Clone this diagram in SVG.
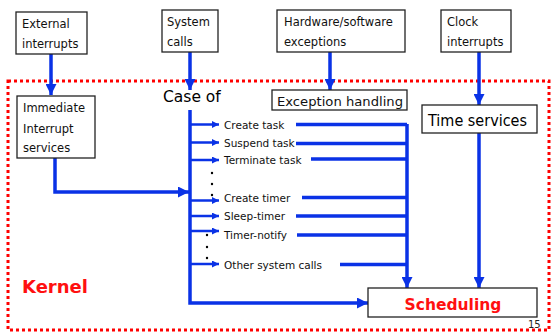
<svg xmlns="http://www.w3.org/2000/svg" width="551" height="332" viewBox="0 0 551 332">
  <style>
    .box { fill: #ffffff; stroke: #222222; stroke-width: 1.3; }
    .t { font-family: "DejaVu Sans", Verdana, sans-serif; font-size: 11.5px; fill: #111111; }
    .lbl { font-family: "DejaVu Sans", Verdana, sans-serif; font-size: 10.5px; fill: #111111; }
    .big { font-family: "DejaVu Sans", Verdana, sans-serif; font-size: 15.5px; fill: #000000; }
    .red { font-family: "DejaVu Sans", Verdana, sans-serif; font-weight: bold; fill: #ff1010; }
    .wire { fill: none; stroke: #0a32e6; stroke-width: 3.5; }
    .dot { fill: #000000; }
  </style>
  <defs>
    <marker id="ah" viewBox="0 0 10 10" refX="10" refY="5" markerWidth="12" markerHeight="11" markerUnits="userSpaceOnUse" orient="auto">
      <path d="M0,0 L10,5 L0,10 z" fill="#0a32e6"/>
    </marker>
    <marker id="ahs" viewBox="0 0 10 10" refX="10" refY="5" markerWidth="8" markerHeight="7" markerUnits="userSpaceOnUse" orient="auto">
      <path d="M0,0 L10,5 L0,10 z" fill="#0a32e6"/>
    </marker>
  </defs>

  <!-- kernel boundary -->
  <rect id="kernel" x="8" y="81" width="541" height="249" fill="none" stroke="#ff0000" stroke-width="3" stroke-dasharray="3 3"/>
  <text class="red" x="22" y="293" font-size="18">Kernel</text>

  <!-- connectors -->
  <g id="connectors">
    <path class="wire" d="M51,54 V95" marker-end="url(#ah)"/>
    <path class="wire" d="M190,52 V90" marker-end="url(#ah)"/>
    <path class="wire" d="M330,52 V90" marker-end="url(#ah)"/>
    <path class="wire" d="M479,52 V105" marker-end="url(#ah)"/>
    <path class="wire" d="M55,158 V192 H189" marker-end="url(#ah)"/>
    <path class="wire" d="M190,110 V303 H368" marker-end="url(#ah)"/>
    <path class="wire" d="M479,133 V288" marker-end="url(#ah)"/>
    <path class="wire" d="M407,124 V288" marker-end="url(#ah)"/>
    <!-- case branches -->
    <g stroke-width="2.5" stroke="#0a32e6" fill="none">
      <path d="M190,124.5 H219" marker-end="url(#ahs)"/>
      <path d="M190,142.5 H219" marker-end="url(#ahs)"/>
      <path d="M190,160 H219" marker-end="url(#ahs)"/>
      <path d="M190,200.5 H219" marker-end="url(#ahs)"/>
      <path d="M190,216 H219" marker-end="url(#ahs)"/>
      <path d="M190,231 H219" marker-end="url(#ahs)"/>
      <path d="M190,264 H219" marker-end="url(#ahs)"/>
    </g>
    <!-- returns to scheduling bus -->
    <path class="wire" d="M296,124.5 H407"/>
    <path class="wire" d="M296,143.5 H407"/>
    <path class="wire" d="M311,159 H407"/>
    <path class="wire" d="M302,197.5 H407"/>
    <path class="wire" d="M296,216 H407"/>
    <path class="wire" d="M297,235 H407"/>
    <path class="wire" d="M340,264.5 H407"/>
  </g>

  <g id="external-interrupts">
    <rect class="box" x="16" y="12" width="71" height="42"/>
    <text class="t" x="22" y="28">External</text>
    <text class="t" x="22" y="48">interrupts</text>
  </g>
  <g id="system-calls">
    <rect class="box" x="162" y="10" width="56" height="42"/>
    <text class="t" x="167" y="26">System</text>
    <text class="t" x="167" y="46">calls</text>
  </g>
  <g id="hw-sw-exceptions">
    <rect class="box" x="277" y="10" width="128" height="42"/>
    <text class="t" x="284" y="26">Hardware/software</text>
    <text class="t" x="284" y="46">exceptions</text>
  </g>
  <g id="clock-interrupts">
    <rect class="box" x="441" y="10" width="70" height="42"/>
    <text class="t" x="447" y="26">Clock</text>
    <text class="t" x="447" y="46">interrupts</text>
  </g>
  <g id="immediate-interrupt-services">
    <rect class="box" x="17" y="96" width="78" height="62"/>
    <text class="t" x="23" y="112">Immediate</text>
    <text class="t" x="23" y="133">Interrupt</text>
    <text class="t" x="23" y="152">services</text>
  </g>
  <g id="case-of">
    <text class="big" x="163" y="102">Case of</text>
  </g>
  <g id="exception-handling">
    <rect class="box" x="272" y="90" width="135" height="20"/>
    <text class="t" x="277" y="106" font-size="14.5" textLength="126" lengthAdjust="spacingAndGlyphs">Exception handling</text>
  </g>
  <g id="time-services">
    <rect class="box" x="422" y="105" width="115" height="28"/>
    <text class="big" x="428" y="126" textLength="99" lengthAdjust="spacingAndGlyphs">Time services</text>
  </g>
  <g id="scheduling">
    <rect class="box" x="368" y="288" width="169" height="29"/>
    <text class="red" x="453" y="310" font-size="15.5" text-anchor="middle">Scheduling</text>
  </g>

  <g id="calls">
    <text class="lbl" x="224" y="129">Create task</text>
    <text class="lbl" x="224" y="147">Suspend task</text>
    <text class="lbl" x="224" y="164">Terminate task</text>
    <text class="lbl" x="224" y="202">Create timer</text>
    <text class="lbl" x="224" y="220">Sleep-timer</text>
    <text class="lbl" x="224" y="239">Timer-notify</text>
    <text class="lbl" x="224" y="269">Other system calls</text>
    <circle class="dot" cx="212" cy="173" r="1.2"/>
    <circle class="dot" cx="212" cy="184" r="1.2"/>
    <circle class="dot" cx="212" cy="195" r="1.2"/>
    <circle class="dot" cx="207" cy="235" r="1.2"/>
    <circle class="dot" cx="207" cy="247" r="1.2"/>
    <circle class="dot" cx="207" cy="258" r="1.2"/>
  </g>

  <text x="528" y="328" font-family="DejaVu Sans, sans-serif" font-size="10" fill="#222">15</text>
</svg>
